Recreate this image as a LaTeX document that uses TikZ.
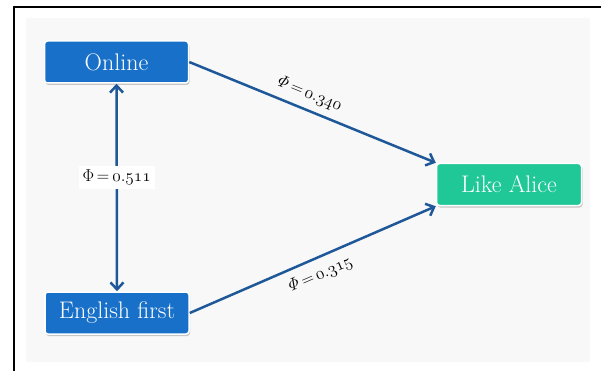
\documentclass[tikz,border=0pt]{standalone}
\usetikzlibrary{arrows.meta,shadows}
\definecolor{boxblue}{RGB}{24,112,200}
\definecolor{boxgreen}{RGB}{32,200,152}
\definecolor{arrowblue}{RGB}{30,88,152}
\definecolor{panel}{RGB}{248,248,248}
\begin{document}
\begin{tikzpicture}[x=1pt,y=-1pt,
  nodebox/.style={rounded corners=3pt, draw=white, line width=1.5pt, text=white,
    minimum height=42pt, inner xsep=2pt, font=\fontsize{24}{28}\selectfont,
    drop shadow={shadow xshift=1pt, shadow yshift=-2pt, opacity=0.35, fill=black!60}},
  link/.style={draw=arrowblue, line width=2.5pt, -{Straight Barb[length=7pt,width=13pt,line width=2.5pt]}},
  philabel/.style={font=\fontsize{16}{19}\selectfont, text=black},
  slopelabel/.style={font=\fontsize{17}{20}\selectfont, text=black}
]
\useasboundingbox (0,0) rectangle (601,371);
\fill[white] (0,0) rectangle (601,371);
\fill[panel] (26,18) rectangle (590,362);
\draw[line width=2pt] (601,7) -- (14,7) -- (14,371);

\node[nodebox, fill=boxblue, minimum width=144pt] (online) at (116.5,62) {Online};
\node[nodebox, fill=boxblue, minimum width=144pt] (english) at (117,313) {English first};
\node[nodebox, fill=boxgreen, minimum width=145pt] (alice) at (509,184.5) {Like Alice};

\draw[link, {Straight Barb[length=7pt,width=13pt,line width=2.5pt]}-{Straight Barb[length=7pt,width=13pt,line width=2.5pt]}] (online.south) -- (english.north)
  node[pos=0.45, fill=white, philabel, inner sep=4pt] (l1) {$\Phi\mkern-2mu=\mkern-2mu\oldstylenums{0.511}$};
\draw[link] (online.east) -- (alice.north west)
  node[pos=0.46, sloped, above, slopelabel, inner sep=7pt] (l2) {$\mathit{\Phi}\mkern-2mu=\mkern-2mu\oldstylenums{0.340}$};
\draw[link] (english.east) -- (alice.south west)
  node[pos=0.5, sloped, below, slopelabel, inner sep=8pt] (l3) {$\mathit{\Phi}\mkern-2mu=\mkern-2mu\oldstylenums{0.315}$};
\end{tikzpicture}
\end{document}
